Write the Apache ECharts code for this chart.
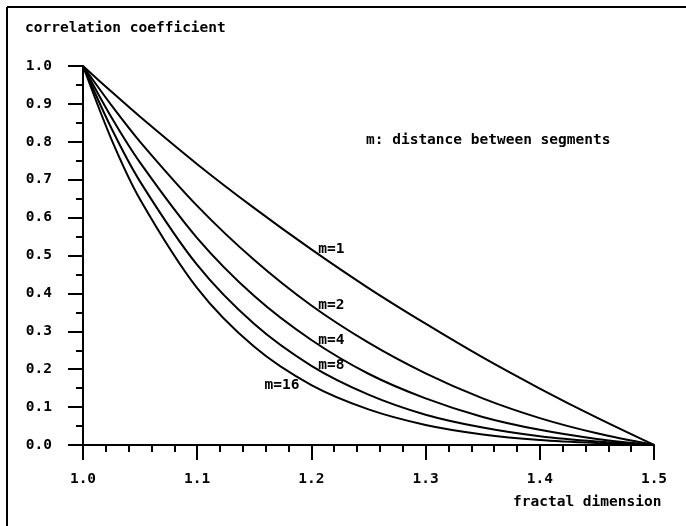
<!DOCTYPE html>
<html>
<head>
<meta charset="utf-8">
<script src="https://cdn.jsdelivr.net/npm/echarts@6/dist/echarts.min.js"></script>
<style>
  html, body { margin: 0; padding: 0; background: #fff; }
  #main { width: 686px; height: 526px; }
</style>
</head>
<body>
<div id="main"></div>
<script type="text/javascript">
  // fractal dimension (x) and correlation coefficient per segment distance m
  var dims = [1.0, 1.025, 1.05, 1.1, 1.15, 1.2, 1.25, 1.3, 1.35, 1.4, 1.45, 1.5];
  var m1  = [1.0, 0.932, 0.866, 0.741, 0.625, 0.516, 0.414, 0.320, 0.231, 0.149, 0.072, 0.0];
  var m2  = [1.0, 0.896, 0.800, 0.631, 0.488, 0.368, 0.270, 0.189, 0.123, 0.071, 0.031, 0.0];
  var m4  = [1.0, 0.864, 0.745, 0.546, 0.393, 0.277, 0.188, 0.123, 0.074, 0.040, 0.016, 0.0];
  var m8  = [1.0, 0.835, 0.695, 0.475, 0.319, 0.209, 0.133, 0.080, 0.046, 0.023, 0.009, 0.0];
  var m16 = [1.0, 0.806, 0.648, 0.414, 0.259, 0.158, 0.094, 0.053, 0.028, 0.013, 0.005, 0.0];
  var seriesNames = ['m=1', 'm=2', 'm=4', 'm=8', 'm=16'];
  // where each curve's name is written, in data units [x, y]
  var labelAt = [[1.206, 0.517], [1.206, 0.369], [1.206, 0.277], [1.206, 0.211], [1.159, 0.158]];

  var font = "'DejaVu Sans Mono', monospace";
  var txt = { fontFamily: font, fontWeight: 'bold', fontSize: 14.5, fill: '#000' };

  function pairs(ys) {
    return dims.map(function (d, i) { return [d, ys[i]]; });
  }

  var allY = [m1, m2, m4, m8, m16];
  var series = allY.map(function (ys, k) {
    return {
      name: seriesNames[k],
      type: 'line',
      smooth: 0.3,
      showSymbol: false,
      lineStyle: { color: '#000', width: 2 },
      data: pairs(ys),
      markPoint: {
        symbol: 'circle',
        symbolSize: 0,
        data: [{
          coord: labelAt[k],
          label: {
            show: true,
            position: 'right',
            distance: 0,
            formatter: seriesNames[k],
            fontFamily: font,
            fontWeight: 'bold',
            fontSize: 14.5,
            color: '#000'
          }
        }]
      }
    };
  });

  var myChart = echarts.init(document.getElementById('main'));

  var option = {
    backgroundColor: '#fff',
    animation: false,
    grid: { left: 83, right: 32, top: 66, bottom: 81 },
    xAxis: {
      type: 'value',
      min: 1.0,
      max: 1.5,
      interval: 0.1,
      axisLine: { lineStyle: { color: '#000', width: 2 } },
      axisTick: { length: 15, lineStyle: { color: '#000', width: 2 } },
      minorTick: { show: true, splitNumber: 5, length: 7, lineStyle: { color: '#000', width: 2 } },
      splitLine: { show: false },
      axisLabel: {
        margin: 27,
        fontFamily: font, fontWeight: 'bold', fontSize: 14.5, color: '#000',
        formatter: function (v) { return v.toFixed(1); }
      }
    },
    yAxis: {
      type: 'value',
      min: 0,
      max: 1.0,
      interval: 0.1,
      axisLine: { show: true, lineStyle: { color: '#000', width: 2 } },
      axisTick: { show: true, length: 15, lineStyle: { color: '#000', width: 2 } },
      minorTick: { show: true, splitNumber: 2, length: 7, lineStyle: { color: '#000', width: 2 } },
      splitLine: { show: false },
      axisLabel: {
        margin: 31,
        fontFamily: font, fontWeight: 'bold', fontSize: 14.5, color: '#000',
        formatter: function (v) { return v.toFixed(1); }
      }
    },
    graphic: [
      { type: 'line', shape: { x1: 7, y1: 7, x2: 686, y2: 7 }, style: { stroke: '#000', lineWidth: 2 } },
      { type: 'line', shape: { x1: 7, y1: 7, x2: 7, y2: 526 }, style: { stroke: '#000', lineWidth: 2 } },
      { type: 'text', left: 25, top: 21, style: Object.assign({ text: 'correlation coefficient' }, txt) },
      { type: 'text', left: 513, top: 495, style: Object.assign({ text: 'fractal dimension' }, txt) },
      { type: 'text', left: 366, top: 133, style: Object.assign({ text: 'm: distance between segments' }, txt) }
    ],
    series: series
  };

  myChart.setOption(option);
</script>
</body>
</html>
